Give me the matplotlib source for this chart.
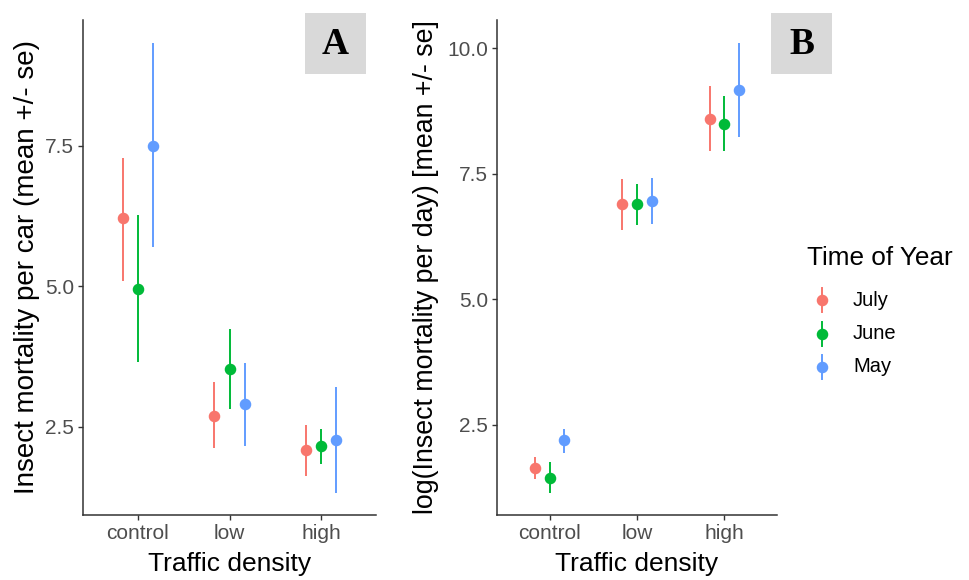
import matplotlib
matplotlib.use("Agg")
import matplotlib.pyplot as plt
from matplotlib.lines import Line2D
from matplotlib.patches import Rectangle
import numpy as np

plt.rcParams['font.family'] = ['Liberation Sans', 'DejaVu Sans']

# data
density = ['control', 'low', 'high']
months = ['July', 'June', 'May']
colors = ['#F8766D', '#00BA38', '#619CFF']

# panel A: insect mortality per car
a_mean = {'July': [6.21, 2.70, 2.08],
          'June': [4.95, 3.52, 2.16],
          'May': [7.50, 2.91, 2.26]}
a_lo = {'July': [5.10, 2.13, 1.62],
        'June': [3.66, 2.81, 1.83],
        'May': [5.70, 2.16, 1.33]}
a_hi = {'July': [7.29, 3.29, 2.53],
        'June': [6.27, 4.24, 2.46],
        'May': [9.34, 3.63, 3.21]}

# panel B: log(insect mortality per day)
b_mean = {'July': [1.63, 6.89, 8.58],
          'June': [1.43, 6.90, 8.49],
          'May': [2.19, 6.96, 9.16]}
b_lo = {'July': [1.41, 6.38, 7.95],
        'June': [1.15, 6.47, 7.95],
        'May': [1.93, 6.50, 8.23]}
b_hi = {'July': [1.86, 7.39, 9.24],
        'June': [1.75, 7.30, 9.04],
        'May': [2.41, 7.42, 10.11]}

W, H = 969, 580
fig = plt.figure(figsize=(W / 100, H / 100), dpi=100)


def px_axes(x0, x1, y0, y1):
    return fig.add_axes([x0 / W, 1 - y1 / H, (x1 - x0) / W, (y1 - y0) / H])


def draw_panel(ax, mean, lo, hi, yticks, ylabel, ylab_size):
    x = np.arange(1, len(density) + 1)
    offs = [-1 / 6, 0, 1 / 6]
    for m, c, o in zip(months, colors, offs):
        mu = np.array(mean[m])
        err = [mu - np.array(lo[m]), np.array(hi[m]) - mu]
        ax.errorbar(x + o, mu, yerr=err, fmt='o', color=c, ms=7.3,
                    elinewidth=1.4, capsize=0, mec=c)
    allv = np.concatenate([np.array(lo[m] + hi[m]) for m in months])
    rng = allv.max() - allv.min()
    ax.set_ylim(allv.min() - 0.05 * rng, allv.max() + 0.05 * rng)
    ax.set_xlim(0.4, 3.6)
    ax.set_xticks(x)
    ax.set_xticklabels(density)
    ax.set_yticks(yticks)
    ax.set_yticklabels(['%.1f' % t for t in yticks])
    for s in ['top', 'right']:
        ax.spines[s].set_visible(False)
    for s in ['left', 'bottom']:
        ax.spines[s].set_color('#333333')
        ax.spines[s].set_linewidth(1.1)
    ax.tick_params(colors='#333333', labelcolor='#4D4D4D', labelsize=15,
                   length=3.5, width=1.0, pad=3)
    ax.set_xlabel('Traffic density', fontsize=19, va='center')
    ax.set_ylabel(ylabel, fontsize=ylab_size, va='center')
    ax.xaxis.set_label_coords(0.5, -(564 - 515) / 495)


def letter_box(x0, letter):
    fig.patches.append(Rectangle((x0 / W, 1 - 74 / H), 61 / W, 61 / H,
                                 transform=fig.transFigure, fc='#D9D9D9',
                                 ec='none'))
    fig.text((x0 + 30.5) / W, 1 - 44 / H, letter, fontsize=27,
             fontweight='bold', family='Liberation Serif',
             ha='center', va='center')


axA = px_axes(83, 376, 20, 515)
draw_panel(axA, a_mean, a_lo, a_hi, [2.5, 5.0, 7.5],
           'Insect mortality per car (mean +/- se)', 20)
axA.yaxis.set_label_coords((27 - 83) / 293, 0.5)
letter_box(305, 'A')

axB = px_axes(497, 777, 20, 515)
draw_panel(axB, b_mean, b_lo, b_hi, [2.5, 5.0, 7.5, 10.0],
           'log(Insect mortality per day) [mean +/- se]', 19.3)
axB.yaxis.set_label_coords((426 - 497) / 280, 0.5)
letter_box(771, 'B')

# legend (Time of Year)
fig.text(807 / W, 1 - 258 / H, 'Time of Year', fontsize=18.8,
         ha='left', va='center')
for i, (m, c) in enumerate(zip(months, colors)):
    yc = 300 + i * 33.5
    fig.add_artist(Line2D([822 / W, 822 / W],
                          [1 - (yc - 12) / H, 1 - (yc + 12) / H],
                          transform=fig.transFigure, color=c, lw=1.4))
    fig.add_artist(Line2D([822 / W], [1 - yc / H], transform=fig.transFigure,
                          marker='o', ms=7.3, color=c, lw=0))
    fig.text(853 / W, 1 - yc / H, m, fontsize=14.5, ha='left', va='center')

fig.savefig('out.png', dpi=100)
